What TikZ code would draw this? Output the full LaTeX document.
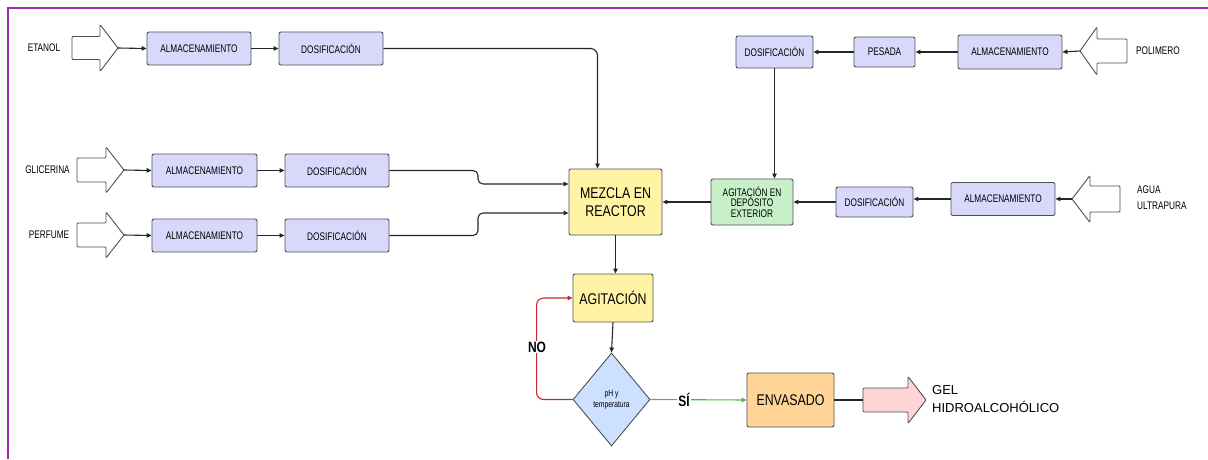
\documentclass[tikz,border=0pt]{standalone}
\usepackage{fontspec}
\setmainfont{Liberation Sans}
\newfontfamily\cond[FakeStretch=0.8]{Liberation Sans}
\newfontfamily\condS[FakeStretch=0.75]{Liberation Sans}
\usetikzlibrary{arrows.meta,shapes.geometric,calc}
\definecolor{lav}{RGB}{216,216,250}
\definecolor{ylw}{RGB}{255,244,163}
\definecolor{grn}{RGB}{200,240,200}
\definecolor{dblue}{RGB}{204,224,255}
\definecolor{orng}{RGB}{255,212,150}
\definecolor{pnk}{RGB}{255,214,216}
\definecolor{frame}{RGB}{155,45,170}
\definecolor{edge}{RGB}{80,80,80}
\definecolor{noline}{RGB}{200,40,40}
\definecolor{siline}{RGB}{80,180,80}
\tikzset{
  box/.style={draw=edge,line width=0.9pt,rounded corners=2pt,fill=lav,inner sep=0pt,
    font=\condS\fontsize{11}{12}\selectfont,align=center},
  bigbox/.style={box,font=\cond\fontsize{15.5}{18}\selectfont},
  conn/.style={line width=1.1pt,draw=black!85,-{Triangle[length=5pt,width=4.5pt]}},
  plain/.style={line width=1.1pt,draw=black!85},
  hollow/.style={draw=edge,line width=0.9pt,fill=white,rounded corners=1pt},
  lbl/.style={font=\condS\fontsize{11}{12}\selectfont,inner sep=0pt},
  decis/.style={font=\cond\bfseries\fontsize{15}{17}\selectfont,fill=white,inner sep=1pt}
}
% right-pointing block arrow: #1 name of tip, #2 left x, #3 tip x, #4 center y, #5 head length, #6 body half, #7 head half, #8 style
\newcommand{\blockR}[8]{%
  \draw[#8] (#2,#4-#6) -- (#3-#5,#4-#6) -- (#3-#5,#4-#7) -- (#3,#4) -- (#3-#5,#4+#7) -- (#3-#5,#4+#6) -- (#2,#4+#6) -- cycle;
  \coordinate (#1) at (#3,#4);}
% left-pointing block arrow: #1 name of tip, #2 right x, #3 tip x, #4 center y, ...
\newcommand{\blockL}[8]{%
  \draw[#8] (#2,#4-#6) -- (#3+#5,#4-#6) -- (#3+#5,#4-#7) -- (#3,#4) -- (#3+#5,#4+#7) -- (#3+#5,#4+#6) -- (#2,#4+#6) -- cycle;
  \coordinate (#1) at (#3,#4);}
\begin{document}
\begin{tikzpicture}[x=1pt,y=-1pt]
\useasboundingbox (0,0) rectangle (1208,459);
\draw[frame,line width=2.4pt] (8,459) -- (8,8) -- (1208,8);

% ---- left inputs
\node[lbl] (tet) at (44,48) {ETANOL};
\node[lbl] (tgl) at (47.5,170) {GLICERINA};
\node[lbl] (tpe) at (49,234.5) {PERFUME};
\blockR{aet}{72}{118}{48}{18}{11.5}{23.5}{hollow}
\blockR{agl}{77}{124}{170}{18}{12}{23}{hollow}
\blockR{ape}{77}{124}{235}{18}{12}{23}{hollow}

\node[box,minimum width=104,minimum height=33] (almE) at (199,48.5) {ALMACENAMIENTO};
\node[box,minimum width=104,minimum height=33] (dosE) at (331,48.5) {DOSIFICACIÓN};
\node[box,minimum width=105,minimum height=33] (almG) at (204.5,170.5) {ALMACENAMIENTO};
\node[box,minimum width=104,minimum height=33] (dosG) at (337,170.5) {DOSIFICACIÓN};
\node[box,minimum width=105,minimum height=33] (almP) at (204.5,235.5) {ALMACENAMIENTO};
\node[box,minimum width=104,minimum height=33] (dosP) at (337,235.5) {DOSIFICACIÓN};

% ---- reactor
\node[bigbox,fill=ylw,minimum width=93,minimum height=66] (mez) at (615.5,202) {MEZCLA EN\\REACTOR};

% ---- right inputs
\node[lbl] (tpol) at (1158,51) {POLIMERO};
\node[lbl,anchor=west,align=left,font=\condS\fontsize{11}{16}\selectfont] (tag) at (1137,198) {AGUA\\ULTRAPURA};
\blockL{apol}{1127}{1080}{51}{17}{12}{24}{hollow}
\blockL{aag}{1120}{1072}{199}{18}{13}{23.5}{hollow}

\node[box,minimum width=104,minimum height=34] (almPol) at (1010,52) {ALMACENAMIENTO};
\node[box,minimum width=61,minimum height=30] (pes) at (884.5,52) {PESADA};
\node[box,minimum width=77,minimum height=32] (dosPol) at (774.5,52) {DOSIFICACIÓN};
\node[box,fill=grn,minimum width=82,minimum height=46,font=\condS\fontsize{11}{10.3}\selectfont] (agx) at (752,202) {AGITACIÓN EN\\DEPÓSITO\\EXTERIOR};
\node[box,minimum width=104,minimum height=33] (almA) at (1003,199) {ALMACENAMIENTO};
\node[box,minimum width=77,minimum height=30] (dosA) at (874.5,202) {DOSIFICACIÓN};

% ---- lower chain
\node[bigbox,fill=ylw,minimum width=80,minimum height=48] (agi) at (613,298) {AGITACIÓN};
\node[draw=edge,line width=0.9pt,diamond,fill=dblue,inner sep=0pt,minimum width=77,minimum height=93,
  align=center,font=\condS\fontsize{9}{11}\selectfont] (dia) at (611.5,399.5) {pH y\\temperatura};
\node[bigbox,fill=orng,minimum width=87,minimum height=54] (env) at (790.5,400) {ENVASADO};
\blockR{agel}{863}{926}{400}{18}{12}{23.5}{draw=edge,line width=0.9pt,fill=pnk,rounded corners=1pt}
\coordinate (gback) at (863,400);
\node[anchor=west,align=left,inner sep=0pt,font=\fontsize{13}{18}\selectfont] (tgel) at (932,399) {GEL\\HIDROALCOHÓLICO};

% ---- connectors left
\draw[conn] (aet) -- (almE.west);
\draw[conn] (almE) -- (dosE);
\draw[conn,rounded corners=7pt] (dosE.east) -| ($(mez.north)+(-18,0)$);
\draw[conn] (agl) -- (almG.west);
\draw[conn] (almG) -- (dosG);
\draw[conn,rounded corners=5pt] (dosG.east) -- (478,170.5) -- (478,184) -- ($(mez.west)+(0,-18)$);
\draw[conn] (ape) -- (almP.west);
\draw[conn] (almP) -- (dosP);
\draw[conn,rounded corners=5pt] (dosP.east) -- (478,235.5) -- (478,213) -- ($(mez.west)+(0,11)$);

% ---- connectors right
\draw[conn] (apol) -- (almPol.east);
\draw[conn] (almPol) -- (pes);
\draw[conn] (pes) -- (dosPol);
\draw[conn] (dosPol.south) -- (dosPol.south |- agx.north);
\draw[conn] (aag) -- (almA.east);
\draw[conn] (almA.west) -- (almA.west -| dosA.east);
\draw[conn] (dosA.west) -- (dosA.west -| agx.east);
\draw[conn] (agx.west) -- (agx.west -| mez.east);

% ---- connectors lower
\draw[conn] (mez.south) -- (mez.south |- agi.north);
\draw[conn] (agi.south) -- (dia.north);
\draw[conn,draw=noline,-{Triangle[length=5pt,width=4.5pt,fill=noline]},rounded corners=7pt]
  (dia.west) -- ++(-36,0) |- (agi.west);
\node[decis] (no) at (537,347) {NO};
\draw[conn,draw=siline,-{Triangle[length=5pt,width=4.5pt,fill=siline]}] (dia.east) -- (env.west)
  node[decis,pos=0.35] (si) {SÍ};
\draw[plain] (env.east) -- (gback);
\end{tikzpicture}
\end{document}
